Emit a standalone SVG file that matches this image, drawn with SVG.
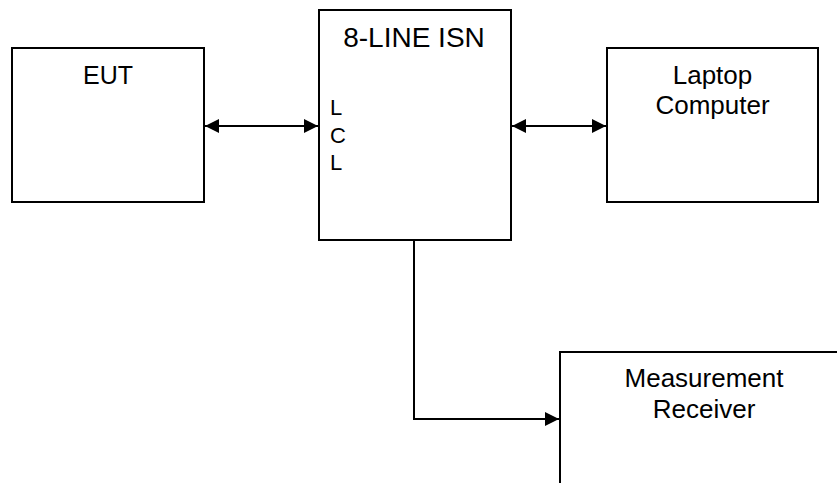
<svg xmlns="http://www.w3.org/2000/svg" width="837" height="483" viewBox="0 0 837 483">
<style>
.box{fill:#fff;stroke:#000;stroke-width:2}
.line{fill:none;stroke:#000;stroke-width:2}
text{font-family:"Liberation Sans",Arial,sans-serif;fill:#000}
</style>
<defs>
<marker id="ah" viewBox="0 0 14 14" refX="14" refY="7" markerWidth="14" markerHeight="14" markerUnits="userSpaceOnUse" orient="auto-start-reverse">
<path d="M0,0 L14,7 L0,14 Z" fill="#000"/>
</marker>
</defs>
<rect width="837" height="483" fill="#fff"/>
<g id="eut">
<rect class="box" x="12" y="48" width="192" height="154"/>
<text x="108" y="84" font-size="25" text-anchor="middle">EUT</text>
</g>
<g id="isn">
<rect class="box" x="319" y="10" width="192" height="230"/>
<text x="414" y="47" font-size="28" text-anchor="middle">8-LINE ISN</text>
<text x="330" y="115" font-size="22">L</text>
<text x="330" y="143" font-size="22">C</text>
<text x="330" y="170" font-size="22">L</text>
</g>
<g id="laptop">
<rect class="box" x="607" y="48" width="211" height="154"/>
<text x="712.5" y="84" font-size="26" text-anchor="middle">Laptop</text>
<text x="712.5" y="114" font-size="26" text-anchor="middle">Computer</text>
</g>
<g id="receiver">
<path class="line" d="M560,484 L560,352 L838,352"/>
<text x="704" y="387" font-size="26" text-anchor="middle">Measurement</text>
<text x="704" y="418" font-size="26" text-anchor="middle">Receiver</text>
</g>
<g id="connectors">
<line class="line" x1="205" y1="126" x2="318" y2="126" marker-start="url(#ah)" marker-end="url(#ah)"/>
<line class="line" x1="512" y1="126" x2="606" y2="126" marker-start="url(#ah)" marker-end="url(#ah)"/>
<path class="line" d="M414,240 L414,419 L559,419" marker-end="url(#ah)"/>
</g>
</svg>
